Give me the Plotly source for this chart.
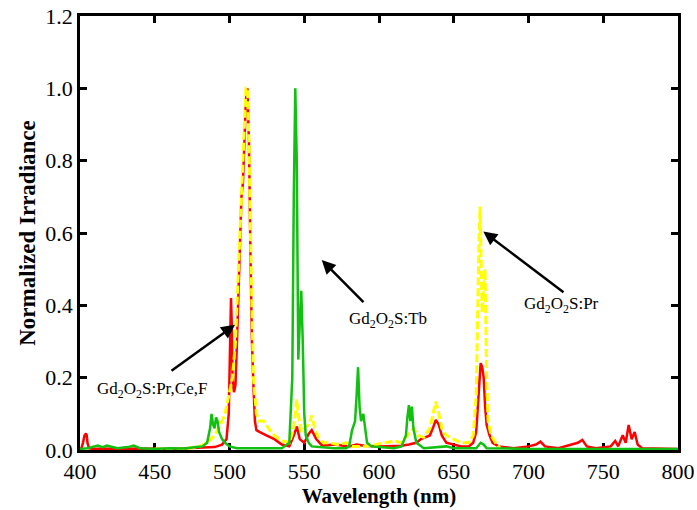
import plotly.graph_objects as go

# Gd2O2S:Pr,Ce,F (red solid)
red_x = [400, 401, 402, 403, 404, 404.5, 405, 406, 408, 415, 425, 440, 460, 480, 490, 495, 498, 499.5,
         500.5, 501, 501.5, 502, 503, 504, 505, 506, 507, 508, 509, 510, 511, 512, 513, 514, 515, 516,
         517, 518, 520, 525, 530, 535, 540, 543, 545, 547, 550, 553, 555, 558, 562, 570, 580, 585,
         590, 600, 610, 615, 620, 625, 628, 631, 634, 636, 638, 640, 642, 645, 650, 655, 660, 663,
         665, 666, 667, 668, 669, 670, 671, 672, 674, 676, 680, 690, 700, 705, 708, 711, 720, 727,
         733, 736, 739, 745, 755, 758, 760, 763, 765, 767, 769, 771, 773, 776, 790, 800]
red_y = [0.003, 0.005, 0.02, 0.04, 0.046, 0.04, 0.02, 0.005, 0.003, 0.004, 0.003, 0.004, 0.003, 0.005, 0.008, 0.015, 0.03, 0.1,
         0.38, 0.42, 0.35, 0.2, 0.16, 0.18, 0.3, 0.45, 0.6, 0.7, 0.74, 0.85, 0.97, 1.0, 0.85, 0.55, 0.3, 0.18,
         0.08, 0.055, 0.05, 0.04, 0.03, 0.015, 0.01, 0.04, 0.065, 0.03, 0.02, 0.045, 0.055, 0.03, 0.012, 0.015, 0.01, 0.015,
         0.012, 0.01, 0.01, 0.012, 0.015, 0.02, 0.03, 0.035, 0.04, 0.06, 0.083, 0.07, 0.04, 0.02, 0.015, 0.01, 0.01, 0.02,
         0.05, 0.12, 0.2, 0.24, 0.23, 0.2, 0.12, 0.07, 0.04, 0.02, 0.01, 0.005, 0.01, 0.015, 0.023, 0.01, 0.005, 0.012,
         0.02, 0.028, 0.01, 0.005, 0.01, 0.025, 0.01, 0.041, 0.02, 0.069, 0.03, 0.05, 0.015, 0.005, 0.003, 0.003]

# Gd2O2S:Pr (yellow dashed)
yel_x = [450, 460, 470, 480, 485, 490, 494, 497, 500, 502, 504, 506, 508, 510, 511, 512, 513, 514, 515, 516,
         518, 520, 523, 526, 530, 535, 540, 543, 545, 546, 548, 550, 553, 555, 557, 560, 563, 567, 572, 578,
         582, 590, 598, 605, 610, 615, 620, 623, 626, 630, 634, 636, 638, 640, 642, 645, 650, 655, 660, 663,
         665, 666, 667, 667.6, 668.3, 669, 670, 670.9, 671.5, 672, 673, 675, 678, 681]
yel_y = [0.003, 0.004, 0.003, 0.01, 0.02, 0.04, 0.07, 0.1, 0.16, 0.2, 0.3, 0.5, 0.7, 0.9, 1.0, 1.0, 0.85, 0.6, 0.35, 0.2,
         0.1, 0.08, 0.08, 0.06, 0.04, 0.025, 0.02, 0.06, 0.14, 0.1, 0.05, 0.06, 0.07, 0.095, 0.06, 0.03, 0.02, 0.02, 0.015, 0.02,
         0.01, 0.01, 0.015, 0.02, 0.025, 0.02, 0.045, 0.06, 0.04, 0.035, 0.06, 0.1, 0.134, 0.1, 0.06, 0.04, 0.03, 0.02, 0.02, 0.04,
         0.15, 0.4, 0.6, 0.673, 0.5, 0.38, 0.45, 0.5, 0.35, 0.2, 0.08, 0.04, 0.02, 0.005]

# Gd2O2S:Tb (green solid)
grn_x = [400, 405, 412, 415, 418, 425, 432, 436, 440, 450, 460, 470, 478, 482, 485, 487, 488, 489, 490, 491,
         492, 493, 495, 497, 500, 505, 520, 535, 540, 542, 543, 544, 545, 546, 547, 548, 549, 550, 551, 553,
         555, 570, 578, 580, 582, 584, 585, 586, 587, 588, 589.5, 590.5, 592, 595, 610, 615, 618, 619, 620, 621,
         622, 623, 625, 630, 645, 650, 665, 668, 670, 672, 700, 800]
grn_y = [0.003, 0.005, 0.012, 0.008, 0.012, 0.005, 0.008, 0.012, 0.005, 0.003, 0.005, 0.004, 0.008, 0.01, 0.02, 0.06, 0.1, 0.07, 0.06, 0.09,
         0.08, 0.05, 0.03, 0.02, 0.01, 0.005, 0.005, 0.005, 0.02, 0.2, 0.7, 1.0, 0.8, 0.25, 0.35, 0.44, 0.3, 0.1, 0.04, 0.02,
         0.01, 0.005, 0.005, 0.01, 0.055, 0.08, 0.15, 0.229, 0.12, 0.08, 0.1, 0.06, 0.02, 0.01, 0.005, 0.01, 0.04, 0.09, 0.124, 0.08,
         0.12, 0.06, 0.02, 0.005, 0.01, 0.005, 0.005, 0.02, 0.015, 0.005, 0.003, 0.003]

x_ticks = [400, 450, 500, 550, 600, 650, 700, 750, 800]
y_ticks = [0.0, 0.2, 0.4, 0.6, 0.8, 1.0, 1.2]

fig = go.Figure()
fig.add_trace(go.Scatter(x=red_x, y=red_y, mode="lines", line=dict(color="#ff0000", width=2.5), name="Gd2O2S:Pr,Ce,F"))
fig.add_trace(go.Scatter(x=yel_x, y=yel_y, mode="lines", line=dict(color="#ffff00", width=3, dash="8px,3px"), name="Gd2O2S:Pr"))
fig.add_trace(go.Scatter(x=grn_x, y=grn_y, mode="lines", line=dict(color="#11c011", width=2.5), name="Gd2O2S:Tb"))

serif = "Liberation Serif, Times New Roman, serif"

# arrows (head x,y ; tail ax,ay)
arrows = [
    (503.7, 0.346, 460.2, 0.216),
    (561.7, 0.525, 590.6, 0.405),
    (669.8, 0.604, 724.4, 0.433),
]
for hx, hy, tx, ty in arrows:
    fig.add_annotation(x=hx, y=hy, ax=tx, ay=ty, xref="x", yref="y", axref="x", ayref="y",
                       text="", showarrow=True, arrowhead=2, arrowsize=1.1, arrowwidth=2.5, arrowcolor="black")

labels = [
    (448.2, 0.166, "Gd<sub>2</sub>O<sub>2</sub>S:Pr,Ce,F"),
    (606.2, 0.36, "Gd<sub>2</sub>O<sub>2</sub>S:Tb"),
    (722.2, 0.40, "Gd<sub>2</sub>O<sub>2</sub>S:Pr"),
]
for lx, ly, t in labels:
    fig.add_annotation(x=lx, y=ly, xref="x", yref="y", text=t, showarrow=False,
                       font=dict(family=serif, size=17, color="black"))

axis_common = dict(showline=True, linecolor="black", linewidth=2.5, mirror="ticks", ticks="inside",
                   ticklen=7, tickwidth=2.5, tickcolor="black", showgrid=False, zeroline=False,
                   tickfont=dict(family=serif, size=22, color="black"), layer="below traces",
                   automargin=False)

fig.update_xaxes(range=[400, 800], tickvals=x_ticks, ticktext=[str(v) for v in x_ticks],
                 title=dict(text="<b>Wavelength (nm)</b>", font=dict(family=serif, size=21, color="black"), standoff=6),
                 **axis_common)
fig.update_yaxes(range=[0, 1.2], tickvals=y_ticks, ticktext=["%.1f" % v for v in y_ticks],
                 title=dict(text="<b>Normalized Irradiance</b>", font=dict(family=serif, size=23, color="black"), standoff=4),
                 **axis_common)

fig.update_layout(width=697, height=510, margin=dict(l=80, r=19, t=16, b=60),
                  paper_bgcolor="white", plot_bgcolor="white", showlegend=False)

fig.write_html("out.html")
